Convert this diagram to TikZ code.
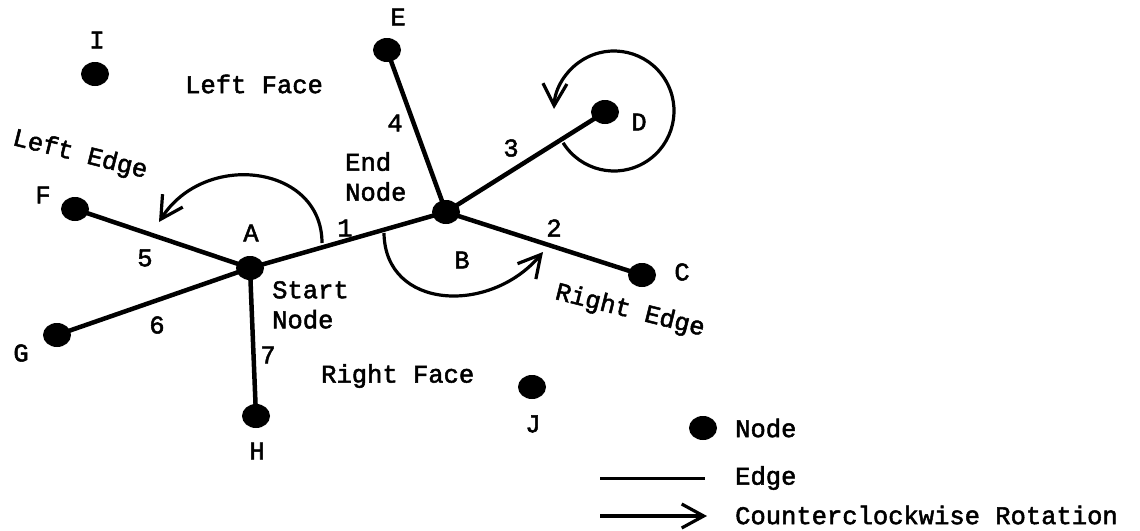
\documentclass[tikz,border=0pt]{standalone}
\usepackage{fontspec}
\setmainfont{Liberation Mono}[FakeBold=2]
\usetikzlibrary{shapes.geometric,arrows.meta}
\begin{document}
\begin{tikzpicture}[x=1pt,y=-1pt,
  dot/.style={ellipse,fill=black,minimum width=28pt,minimum height=24pt,inner sep=0pt},
  edgeline/.style={line width=4.5pt},
  rot/.style={line width=3.2pt,-{Straight Barb[length=22pt,width=24pt,line width=3.2pt]}},
  lbl/.style={font=\fontsize{25.5}{30}\selectfont,inner sep=0pt,align=left},
]
\useasboundingbox (0,0) rectangle (1140,530);
% nodes
\node[dot] (A) at (250,268) {};
\node[dot] (B) at (446,212) {};
\node[dot] (C) at (642,275) {};
\node[dot] (D) at (605,112) {};
\node[dot] (E) at (387,50) {};
\node[dot] (F) at (75,209) {};
\node[dot] (G) at (57,335) {};
\node[dot] (H) at (256,416) {};
\node[dot] (I) at (95,74) {};
\node[dot] (J) at (532,387) {};
% edges
\draw[edgeline] (A.center) -- (B.center);
\draw[edgeline] (B.center) -- (C.center);
\draw[edgeline] (B.center) -- (D.center);
\draw[edgeline] (B.center) -- (E.center);
\draw[edgeline] (A.center) -- (F.center);
\draw[edgeline] (A.center) -- (G.center);
\draw[edgeline] (A.center) -- (H.center);
% node letters
\node[lbl] (lA) at (251,233) {A};
\node[lbl] (lB) at (462,260) {B};
\node[lbl] (lC) at (682,272) {C};
\node[lbl] (lD) at (639,122) {D};
\node[lbl] (lE) at (398,17) {E};
\node[lbl] (lF) at (43,195) {F};
\node[lbl] (lG) at (21,353) {G};
\node[lbl] (lH) at (257,451) {H};
\node[lbl] (lI) at (97,40) {I};
\node[lbl] (lJ) at (533,424) {J};
% edge numbers
\node[lbl] (n1) at (345,228) {1};
\node[lbl] (n2) at (554,228) {2};
\node[lbl] (n3) at (511,148) {3};
\node[lbl] (n4) at (395,123) {4};
\node[lbl] (n5) at (145,258) {5};
\node[lbl] (n6) at (157,325) {6};
\node[lbl] (n7) at (268,355) {7};
% region texts
\node[lbl,anchor=west] (lf) at (185,84) {Left Face};
\node[lbl,anchor=west] (rf) at (321,376) {Right Face};
\node[lbl,rotate=-14] (le) at (80,155) {Left Edge};
\node[lbl,rotate=-14] (re) at (630,311) {Right Edge};
\node[lbl,anchor=north west] (en) at (345,152) {End\\Node};
\node[lbl,anchor=north west] (sn) at (272,281) {Start\\Node};
% rotations
\coordinate (a1) at (322,243);
\coordinate (a2) at (159,222);
\draw[rot] (a1) .. controls (322,165) and (205,150) .. (a2);
\coordinate (b1) at (384,233);
\coordinate (b2) at (543,252);
\draw[rot] (b1) .. controls (385,310) and (490,315) .. (b2);
\coordinate (dc) at (614,111);
\draw[rot] ([shift={(148:60)}]dc) arc[start angle=148,end angle=-178,radius=60];
% legend
\node[dot] (Ln) at (703,428) {};
\node[lbl,anchor=west] (Lnt) at (735,428) {Node};
\coordinate (le1) at (600,478);
\coordinate (le2) at (705,478);
\draw[line width=3pt] (le1) -- (le2);
\node[lbl,anchor=west] (Let) at (735,478) {Edge};
\coordinate (lr1) at (600,516);
\coordinate (lr2) at (707,516);
\draw[rot] (lr1) -- (lr2);
\node[lbl,anchor=west] (Lrt) at (735,515) {Counterclockwise Rotation};
\end{tikzpicture}
\end{document}
